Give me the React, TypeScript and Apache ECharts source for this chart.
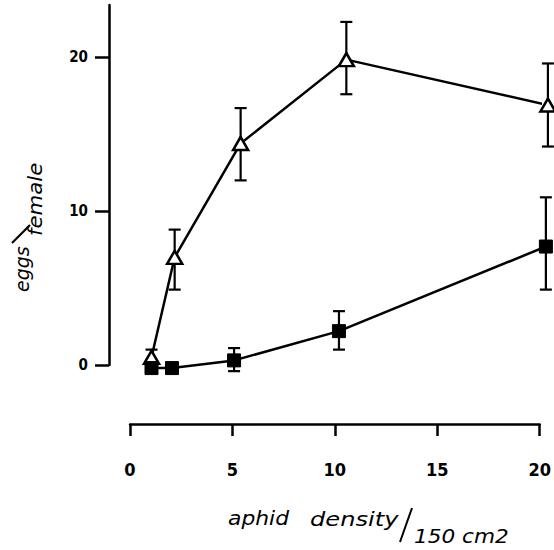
import React, { useEffect, useRef } from "react";
import * as echarts from "echarts";

// aphid density (per 150 cm2) and eggs per female
const densityTri = [1.05, 2.18, 5.4, 10.56, 20.4];
const eggsTri = [0.5, 7.0, 14.4, 19.85, 16.9];
const triLow = [0.2, 4.9, 12.0, 17.6, 14.2];
const triHigh = [1.0, 8.8, 16.7, 22.3, 19.6];

const densitySq = [1.05, 2.05, 5.08, 10.2, 20.3];
const eggsSq = [-0.2, -0.2, 0.3, 2.2, 7.7];
const sqLow = [null, null, -0.4, 1.0, 4.9];
const sqHigh = [null, null, 1.1, 3.5, 10.9];

const xTicks = [0, 5, 10, 15, 20];
const yTicks = [0, 10, 20];

const errData = (xs: number[], lo: (number | null)[], hi: (number | null)[]) =>
  xs
    .map((x, i) => (lo[i] == null ? null : [x, lo[i], hi[i]]))
    .filter((d) => d != null);

const renderErr = (params: any, api: any) => {
  const x = api.value(0);
  const top = api.coord([x, api.value(2)]);
  const bot = api.coord([x, api.value(1)]);
  const hw = 6;
  const style = { stroke: "#000", lineWidth: 2.2 };
  return {
    type: "group",
    children: [
      { type: "line", shape: { x1: top[0], y1: top[1], x2: bot[0], y2: bot[1] }, style },
      { type: "line", shape: { x1: top[0] - hw, y1: top[1], x2: top[0] + hw, y2: top[1] }, style },
      { type: "line", shape: { x1: bot[0] - hw, y1: bot[1], x2: bot[0] + hw, y2: bot[1] }, style },
    ],
  };
};

export default function App() {
  const ref = useRef<HTMLDivElement>(null);
  useEffect(() => {
    if (!ref.current) return;
    const chart = echarts.init(ref.current, undefined, { renderer: "svg" });
    const titleFont = "DejaVu Sans";
    chart.setOption({
      animation: false,
      backgroundColor: "#fff",
      grid: { left: 130, right: 11, top: 5, bottom: 185 },
      xAxis: {
        type: "value",
        min: 0,
        max: 20,
        interval: 5,
        offset: 59,
        axisLine: { show: true, onZero: false, lineStyle: { color: "#000", width: 2.5 } },
        axisTick: { show: true, length: 12, inside: false, lineStyle: { color: "#000", width: 2.5 } },
        axisLabel: {
          customValues: xTicks,
          margin: 36,
          color: "#000",
          fontFamily: "DejaVu Sans Condensed, sans-serif",
          fontWeight: "bold",
          fontSize: 18,
          showMinLabel: true,
          showMaxLabel: true,
        },
        splitLine: { show: false },
      },
      yAxis: {
        type: "value",
        min: 0,
        max: 23.4,
        offset: 21,
        axisLine: { show: true, onZero: false, lineStyle: { color: "#000", width: 2.5 } },
        axisTick: { show: true, length: 14, customValues: yTicks, lineStyle: { color: "#000", width: 2.5 } },
        axisLabel: {
          customValues: yTicks,
          margin: 21,
          color: "#000",
          fontFamily: "DejaVu Sans Condensed, sans-serif",
          fontWeight: "bold",
          fontSize: 15,
        },
        splitLine: { show: false },
      },
      series: [
        {
          type: "line",
          data: densityTri.map((x, i) => [x, eggsTri[i]]),
          symbol: "triangle",
          symbolSize: [15, 13],
          clip: false,
          z: 3,
          lineStyle: { color: "#000", width: 2.5 },
          itemStyle: { color: "#fff", borderColor: "#000", borderWidth: 2.5 },
        },
        {
          type: "line",
          data: densitySq.map((x, i) => [x, eggsSq[i]]),
          symbol: "rect",
          symbolSize: 13,
          clip: false,
          z: 3,
          lineStyle: { color: "#000", width: 2.5 },
          itemStyle: { color: "#000", borderColor: "#000", borderWidth: 1 },
        },
        {
          type: "custom",
          data: errData(densityTri, triLow, triHigh),
          renderItem: renderErr,
          clip: false,
          z: 2,
        },
        {
          type: "custom",
          data: errData(densitySq, sqLow, sqHigh),
          renderItem: renderErr,
          clip: false,
          z: 2,
        },
      ],
      graphic: [
        {
          type: "text",
          x: 228,
          y: 519,
          scaleX: 1.15,
          style: {
            text: "aphid",
            font: `italic 19px ${titleFont}`,
            fill: "#000",
            align: "left",
            verticalAlign: "middle",
          },
        },
        {
          type: "text",
          x: 310,
          y: 519,
          scaleX: 1.27,
          style: {
            text: "density",
            font: `italic 19px ${titleFont}`,
            fill: "#000",
            align: "left",
            verticalAlign: "middle",
          },
        },
        {
          type: "line",
          shape: { x1: 412, y1: 508, x2: 400, y2: 542 },
          style: { stroke: "#000", lineWidth: 2 },
        },
        {
          type: "text",
          x: 414,
          y: 536,
          scaleX: 1.08,
          style: {
            text: "150 cm2",
            font: `italic 20px ${titleFont}`,
            fill: "#000",
            align: "left",
            verticalAlign: "middle",
          },
        },
        {
          type: "text",
          x: 22,
          y: 292,
          rotation: Math.PI / 2,
          style: {
            text: "eggs",
            font: `italic 19px ${titleFont}`,
            fill: "#000",
            align: "left",
            verticalAlign: "middle",
          },
        },
        {
          type: "line",
          shape: { x1: 12, y1: 243, x2: 30, y2: 225 },
          style: { stroke: "#000", lineWidth: 2.2 },
        },
        {
          type: "text",
          x: 35,
          y: 236,
          rotation: Math.PI / 2,
          scaleX: 1.12,
          style: {
            text: "female",
            font: `italic 19px ${titleFont}`,
            fill: "#000",
            align: "left",
            verticalAlign: "middle",
          },
        },
      ],
    });
    return () => chart.dispose();
  }, []);
  return (
    <div
      ref={ref}
      style={{ position: "fixed", left: 0, top: 0, width: 554, height: 550, background: "#fff" }}
    />
  );
}
